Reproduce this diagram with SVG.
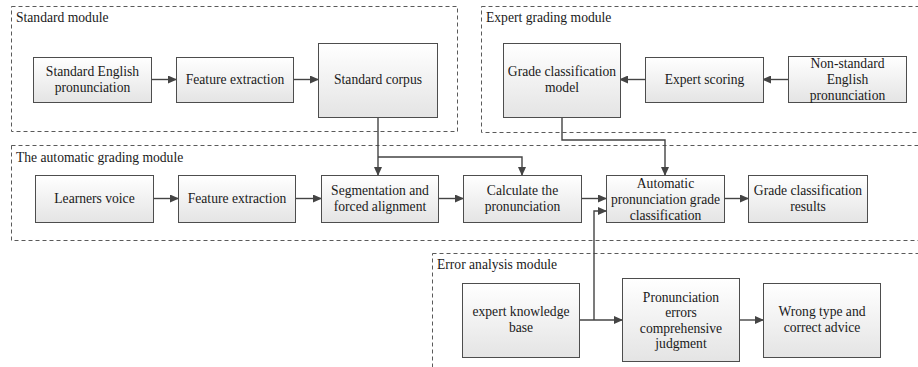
<svg xmlns="http://www.w3.org/2000/svg" width="918" height="367" viewBox="0 0 918 367" font-family="'Liberation Serif', 'DejaVu Serif', serif">
<style>
.mod{fill:none;stroke:#5a5a5a;stroke-width:1;stroke-dasharray:4,3}
.box{fill:url(#g);stroke:#4d4d4d;stroke-width:1}
text{font-family:'Liberation Serif','DejaVu Serif',serif;font-size:13.6px;fill:#1a1a1a}
.c{text-anchor:middle}
.ln{fill:none;stroke:#444;stroke-width:1.4;marker-end:url(#ah)}
</style>
<defs>
<linearGradient id="g" x1="0" y1="0" x2="0" y2="1">
<stop offset="0" stop-color="#ffffff"/>
<stop offset="1" stop-color="#e4e4e4"/>
</linearGradient>
<marker id="ah" markerWidth="9" markerHeight="8" refX="8" refY="4" orient="auto" markerUnits="userSpaceOnUse">
<path d="M0,0 L9,4 L0,8 z" fill="#444"/>
</marker>
</defs>

<g id="modules">
<rect class="mod" x="11.5" y="6.5" width="446" height="125"/>
<text x="16" y="22">Standard module</text>
<rect class="mod" x="481.5" y="6.5" width="445" height="126"/>
<text x="486" y="22">Expert grading module</text>
<rect class="mod" x="11.5" y="145.5" width="915" height="95"/>
<text x="16" y="162">The automatic grading module</text>
<rect class="mod" x="432.5" y="253.5" width="494" height="130"/>
<text x="437" y="269">Error analysis module</text>
</g>

<g id="connectors">
<path class="ln" d="M151,79.5 H176"/>
<path class="ln" d="M293,79.5 H318"/>
<path class="ln" d="M378,117 V175"/>
<path class="ln" d="M378,157 H522 V175"/>
<path class="ln" d="M788,79.5 H763"/>
<path class="ln" d="M645,79.5 H620"/>
<path class="ln" d="M562,117 V140 H665 V175"/>
<path class="ln" d="M153,198.5 H178"/>
<path class="ln" d="M295,198.5 H321"/>
<path class="ln" d="M438,198.5 H463"/>
<path class="ln" d="M581,198.5 H606"/>
<path class="ln" d="M724,198.5 H748"/>
<path class="ln" d="M579,320 H622"/>
<path class="ln" d="M594,320 V211 H606"/>
<path class="ln" d="M739,320 H763"/>
</g>

<g id="n_std_eng"><rect class="box" x="33.5" y="57.5" width="118" height="45"/>
<text class="c" x="92.5" y="76">Standard English</text><text class="c" x="92.5" y="92">pronunciation</text></g>
<g id="n_feat1"><rect class="box" x="176.5" y="57.5" width="117" height="45"/>
<text class="c" x="235" y="84">Feature extraction</text></g>
<g id="n_corpus"><rect class="box" x="318.5" y="43.5" width="119" height="74"/>
<text class="c" x="378" y="84">Standard corpus</text></g>

<g id="n_grade_model"><rect class="box" x="503.5" y="43.5" width="117" height="74"/>
<text class="c" x="562" y="76">Grade classification</text><text class="c" x="562" y="92">model</text></g>
<g id="n_expert"><rect class="box" x="645.5" y="57.5" width="118" height="45"/>
<text class="c" x="704.5" y="84">Expert scoring</text></g>
<g id="n_nonstd"><rect class="box" x="788.5" y="56.5" width="118" height="46"/>
<text class="c" x="847.5" y="68">Non-standard</text><text class="c" x="847.5" y="84">English</text><text class="c" x="847.5" y="100">pronunciation</text></g>

<g id="n_learners"><rect class="box" x="35.5" y="175.5" width="118" height="47"/>
<text class="c" x="94.5" y="203">Learners voice</text></g>
<g id="n_feat2"><rect class="box" x="178.5" y="175.5" width="117" height="47"/>
<text class="c" x="237" y="203">Feature extraction</text></g>
<g id="n_seg"><rect class="box" x="321.5" y="175.5" width="117" height="47"/>
<text class="c" x="380" y="195">Segmentation and</text><text class="c" x="380" y="211">forced alignment</text></g>
<g id="n_calc"><rect class="box" x="463.5" y="175.5" width="118" height="47"/>
<text class="c" x="522.5" y="195">Calculate the</text><text class="c" x="522.5" y="211">pronunciation</text></g>
<g id="n_auto"><rect class="box" x="606.5" y="175.5" width="118" height="47"/>
<text class="c" x="665.5" y="187.5">Automatic</text><text class="c" x="665.5" y="203.5">pronunciation grade</text><text class="c" x="665.5" y="219.5">classification</text></g>
<g id="n_results"><rect class="box" x="748.5" y="175.5" width="119" height="47"/>
<text class="c" x="808" y="195">Grade classification</text><text class="c" x="808" y="211">results</text></g>

<g id="n_ekb"><rect class="box" x="462.5" y="283.5" width="117" height="74"/>
<text class="c" x="521" y="316">expert knowledge</text><text class="c" x="521" y="332">base</text></g>
<g id="n_perr"><rect class="box" x="622.5" y="278.5" width="117" height="83"/>
<text class="c" x="681" y="301.5">Pronunciation</text><text class="c" x="681" y="317">errors</text><text class="c" x="681" y="332.5">comprehensive</text><text class="c" x="681" y="348">judgment</text></g>
<g id="n_wrong"><rect class="box" x="763.5" y="283.5" width="117" height="74"/>
<text class="c" x="822" y="316">Wrong type and</text><text class="c" x="822" y="332">correct advice</text></g>
</svg>
